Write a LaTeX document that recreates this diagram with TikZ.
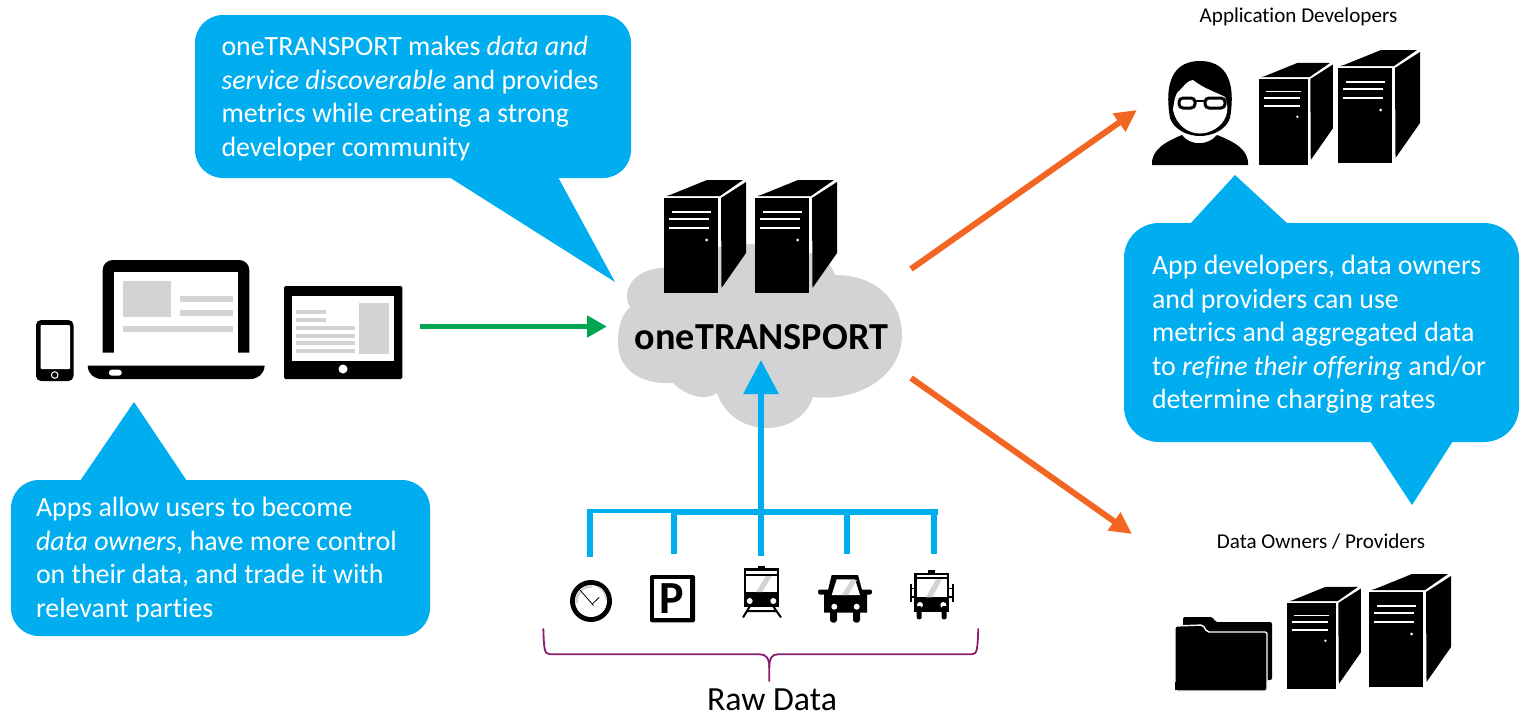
\documentclass[tikz,border=0pt]{standalone}
\usepackage{fontspec}
\setmainfont{Carlito}[Ligatures=NoCommon]
\usetikzlibrary{arrows.meta}
\definecolor{calloutblue}{RGB}{0, 174, 239}
\definecolor{arrowgreen}{RGB}{0, 166, 81}
\definecolor{arroworange}{RGB}{242, 101, 34}
\definecolor{cloudgray}{RGB}{209, 211, 212}
\definecolor{bracepurple}{RGB}{140, 29, 110}

\tikzset{
  calloutbg/.style={fill=calloutblue},
  callouttext/.style={text=white, align=left, anchor=north west, inner sep=0pt,
    font=\fontsize{27.9}{33.4}\selectfont},
  iconlabel/.style={inner sep=0pt, font=\fontsize{21.1}{25}\selectfont},
  thickflow/.style={line width=6pt},
  server/.pic={
    \fill[black] (0,0) rectangle (54,95);
    \fill[black] (6,-3) -- (43,-18) -- (79,-18) -- (56,-2) -- (2,-2) -- cycle;
    \fill[black] (57,0) -- (82,-16) -- (82,55) -- (57.5,90) -- cycle;
    \draw[white, line width=1.6pt] (8,14) -- (47,14);
    \draw[white, line width=1.6pt] (5,21) -- (45,21);
    \draw[white, line width=1.6pt] (5,30) -- (45,30);
    \fill[white] (42.7,42) circle[radius=1.5];
  }
}

\begin{document}
\begin{tikzpicture}[x=1pt, y=-1pt, line width=1pt]
\useasboundingbox (0,0) rectangle (1528,718);

% ============================================================
%  CLOUD  --  centre
% ============================================================
\fill[cloudgray] (630,307) .. controls (620,290) and (635,265) .. (672,268)
  .. controls (690,238) and (822,232) .. (835,275)
  .. controls (880,275) and (902,305) .. (902,335)
  .. controls (902,375) and (860,402) .. (813,397)
  .. controls (800,438) and (733,440) .. (717,393)
  .. controls (705,402) and (685,395) .. (673,383)
  .. controls (635,385) and (618,365) .. (618,343)
  .. controls (618,325) and (622,315) .. (630,307) -- cycle;
\pic (coreA) at (664,198) {server};
\pic (coreB) at (755,198) {server};
\node[inner sep=0pt, font=\fontsize{38.2}{44}\selectfont\bfseries] (core) at (761.5,337) {oneTRANSPORT};

% ============================================================
%  CALLOUTS
% ============================================================
% top: (195,15) to (631,178), pointer towards the cloud
\fill[calloutbg, rounded corners=28pt] (195,15) rectangle (631,178);
\fill[calloutbg] (449,177) -- (615,282) -- (558,177) -- cycle;
\node[callouttext] (noteCore) at (221,36) {oneTRANSPORT makes \textit{data and}\\
  \textit{service discoverable} and provides\\
  metrics while creating a strong\\
  developer community};

% bottom left: (11,480) to (430,636), pointer towards the devices
\fill[calloutbg, rounded corners=28pt] (11,480) rectangle (430,636);
\fill[calloutbg] (80,481) -- (134,402) -- (187,481) -- cycle;
\node[callouttext] (noteApps) at (35.5,497) {Apps allow users to become\\
  \textit{data owners,} have more control\\
  on their data, and trade it with\\
  relevant parties};

% right: (1124,223) to (1519,442), two pointers
\fill[calloutbg, rounded corners=35pt] (1124,223) rectangle (1519,442);
\fill[calloutbg] (1190,224) -- (1235,175) -- (1288,224) -- cycle;
\fill[calloutbg] (1370,441) -- (1412,505) -- (1453,441) -- cycle;
\node[callouttext] (noteDev) at (1151.5,255) {App developers, data owners\\
  and providers can use\\
  metrics and aggregated data\\
  to \textit{refine their offering} and/or\\
  determine charging rates};

% ============================================================
%  DEVICES  --  phone, laptop, tablet
% ============================================================
% phone
\fill[black, rounded corners=5pt] (36,320) rectangle (73.5,381);
\fill[white, rounded corners=1pt] (40.7,325) rectangle (70,369);
\draw[white, line width=1pt] (54.7,375) circle[radius=3.3];
% laptop
\fill[black] (102.7,352.7) -- (102.7,270) [rounded corners=10pt] -- (102.7,260) -- (249.3,260) [sharp corners] -- (249.3,352.7) -- cycle;
\fill[white] (114,271.7) rectangle (238.3,353);
\fill[cloudgray] (122.7,280.7) rectangle (171.3,317.3);
\fill[cloudgray] (180,296) rectangle (233.3,302.3);
\fill[cloudgray] (180,310) rectangle (233.3,316);
\fill[cloudgray] (122.7,326) rectangle (233.3,332);
\fill[black] (87.7,365.7) -- (264.7,365.7) .. controls (264,374) and (258,379) .. (250,379)
  -- (102,379) .. controls (94,379) and (88,374) .. (87.7,365.7) -- cycle;
\fill[white, rounded corners=3pt] (108.8,369.7) rectangle (121.8,375.7);
% tablet
\fill[black, rounded corners=1.5pt] (284,286) rectangle (402.3,379);
\fill[white] (292,296) rectangle (394,360.7);
\fill[cloudgray] (359,303) rectangle (389,354);
\fill[cloudgray] (296,310) rectangle (326,314);
\fill[cloudgray] (296,318) rectangle (326,322);
\foreach \y in {326,334,341,349}
  \fill[cloudgray] (296,\y) rectangle (355,\y+4);
\fill[white] (343,369) circle[radius=4.5];

% ============================================================
%  ARROWS
% ============================================================
\coordinate (devOut) at (420,326.5);
\coordinate (coreIn) at (607,326.5);
\draw[arrowgreen, line width=5pt, -{Triangle[length=20pt,width=21pt]}] (devOut) -- (coreIn);

\coordinate (coreUp) at (911,269);
\coordinate (devsIn) at (1137,110);
\draw[arroworange, thickflow, -{Triangle[length=22pt,width=21pt]}] (coreUp) -- (devsIn);
\coordinate (coreDown) at (911,378);
\coordinate (ownersIn) at (1132,534);
\draw[arroworange, thickflow, -{Triangle[length=22pt,width=21pt]}] (coreDown) -- (ownersIn);

% ---- raw data tree ----
\coordinate (busL) at (587,510.5);
\coordinate (busM) at (674,510.5);
\coordinate (busN) at (671,511.5);
\coordinate (busR) at (938,511.5);
\draw[calloutblue, line width=4pt] (busL) -- (busM);
\draw[calloutblue, thickflow] (busN) -- (busR);
\foreach \name/\x/\yend in {clock/590/557, park/674/554, tram/761/556, taxi/847/554, coach/934/554} {
  \coordinate (\name Top) at (\x,512);
  \coordinate (\name End) at (\x,\yend);
  \draw[calloutblue, thickflow] (\name Top) -- (\name End);
}
\coordinate (coreBottom) at (761,360);
\coordinate (trunkFoot) at (761,512);
\draw[calloutblue, thickflow, -{Triangle[length=34pt,width=34pt]}] (trunkFoot) -- (coreBottom);

% ============================================================
%  RAW DATA ICONS
% ============================================================
% clock
\fill[black] (591,601) circle[radius=21];
\fill[white] (591,601) circle[radius=16];
\draw[cloudgray, line width=2.5pt] (576.5,603) .. controls (576,591) and (585,586.5) .. (592,586.5);
\draw[cloudgray, line width=1.5pt] (598,587) .. controls (603,589) and (606,595) .. (606,600);
\draw[black, line width=.8pt] (580,590) -- (593.5,605.5);
\draw[black, line width=.8pt] (592.3,604) -- (599.3,597.3);
% parking
\fill[black, rounded corners=2pt] (650,575) rectangle (695,622.3);
\fill[white] (654.3,579.3) rectangle (690,618.3);
\node[inner sep=0pt, font=\fontsize{46}{46}\selectfont\bfseries] (parkP) at (672,598.5) {P};
% tram
\fill[black] (758,566) rectangle (765,569);
\fill[black] (744,568) rectangle (779,607);
\fill[white] (746,570.5) rectangle (777,574);
\fill[white] (746,576) rectangle (777,592);
\fill[cloudgray] (756,592) -- (762,592) -- (772,576) -- (766,576) -- cycle;
\fill[white] (749.7,601) circle[radius=3];
\fill[white] (773.3,601) circle[radius=3];
\draw[black, line width=2pt] (750,606) -- (743,617.5) (773,606) -- (781,617.5) (747,611) -- (777,611);
% taxi
\fill[black] (831.7,575) -- (858,575) -- (862,590) -- (867,592) -- (867,612.7) -- (824,612.7) -- (824,592) -- (828,590) -- cycle;
\fill[black, rounded corners=2pt] (818,589.5) rectangle (830,594.5);
\fill[black, rounded corners=2pt] (860,589.5) rectangle (872,594.5);
\fill[black, rounded corners=3pt] (830,608) rectangle (837,622.7);
\fill[black, rounded corners=3pt] (853,608) rectangle (860,622.7);
\fill[white] (836.7,579.3) -- (855,579.3) -- (860,595) -- (831.7,595) -- cycle;
\fill[cloudgray] (842,595) -- (848,595) -- (857,580) -- (851,580) -- cycle;
\fill[white] (834.3,606.7) circle[radius=3];
\fill[white] (856.7,606.7) circle[radius=3];
% bus
\fill[black] (928,570) rectangle (935,573);
\fill[black] (914.3,572.7) rectangle (949,611.7);
\fill[white] (916.7,574.5) rectangle (946.7,577.3);
\fill[white] (916.7,579.3) rectangle (946.7,597.3);
\fill[cloudgray] (926,597.3) -- (932,597.3) -- (942,579.3) -- (936,579.3) -- cycle;
\fill[white] (920,605) circle[radius=3];
\fill[white] (943.3,605) circle[radius=3];
\fill[black, rounded corners=2pt] (916.7,606) rectangle (921.7,619.3);
\fill[black, rounded corners=2pt] (941.7,606) rectangle (946.7,619.3);
\draw[black, line width=1.6pt] (910.7,584) -- (910.7,601.7) (910.7,588.3) -- (914.3,588.3) (910.7,596.7) -- (914.3,596.7);
\draw[black, line width=1.6pt] (952.7,584) -- (952.7,601.7) (952.7,588.3) -- (949,588.3) (952.7,596.7) -- (949,596.7);

% ---- brace ----
\draw[bracepurple, line width=1.8pt] (543.3,628.3) .. controls (544,648) and (544,654.3) .. (550,654.3)
  -- (760,654.3) .. controls (766,654.3) and (769.3,658) .. (769.3,668) -- (769.3,681.7);
\draw[bracepurple, line width=1.8pt] (978.3,628.3) .. controls (977.5,648) and (977.5,654.3) .. (972,654.3)
  -- (778,654.3) .. controls (772,654.3) and (769.3,658) .. (769.3,668);
\node[inner sep=0pt, font=\fontsize{33.8}{38}\selectfont] (rawLabel) at (772,700) {Raw Data};

% ============================================================
%  APPLICATION DEVELOPERS  --  top right
% ============================================================
\node[iconlabel] (devLabel) at (1298.5,17) {Application Developers};
% person
\fill[black] (1152,165) .. controls (1151,150) and (1165,142) .. (1182,135)
  .. controls (1190,146) and (1208,146) .. (1217,135)
  .. controls (1235,142) and (1249,150) .. (1248,165) -- cycle;
\fill[black] (1170,118) .. controls (1166,95) and (1166,61) .. (1200,61)
  .. controls (1234,61) and (1234,95) .. (1230,118)
  .. controls (1226,130) and (1212,136) .. (1200,136)
  .. controls (1188,136) and (1174,130) .. (1170,118) -- cycle;
\fill[white] (1173,110) .. controls (1174,100) and (1176,92) .. (1180,90)
  .. controls (1184,86) and (1188,80) .. (1193,80)
  .. controls (1198,84) and (1205,88) .. (1210,90)
  .. controls (1216,93) and (1222,95) .. (1225,97)
  .. controls (1228,105) and (1228,110) .. (1226,116)
  .. controls (1222,127) and (1210,133.5) .. (1200,133.5)
  .. controls (1188,133.5) and (1176,125) .. (1173,110) -- cycle;
\draw[black, line width=3pt, rounded corners=4pt] (1179,98) rectangle (1195,108);
\draw[black, line width=3pt, rounded corners=4pt] (1205,98) rectangle (1225,108);
\draw[black, line width=2.2pt] (1195,101) -- (1204,101);
\pic[scale=.9] (devSrvA) at (1259,79) {server};
\pic (devSrvB) at (1338,68) {server};

% ============================================================
%  DATA OWNERS  --  bottom right
% ============================================================
\node[iconlabel] (ownerLabel) at (1321,542) {Data Owners / Providers};
% folder
\fill[black, rounded corners=2pt] (1183,682) -- (1183,617) -- (1213,617) -- (1215,622) -- (1272,622) -- (1272,680) -- cycle;
\fill[black, draw=white, line width=1.4pt, rounded corners=2pt] (1175,691) -- (1175,626) -- (1203,625) -- (1207,632) -- (1267,632) -- (1267,691) -- cycle;
\fill[black] (1175,682) rectangle (1265,690);
\pic[scale=.9] (ownerSrvA) at (1287,603) {server};
\pic (ownerSrvB) at (1369,592) {server};

\end{tikzpicture}
\end{document}
